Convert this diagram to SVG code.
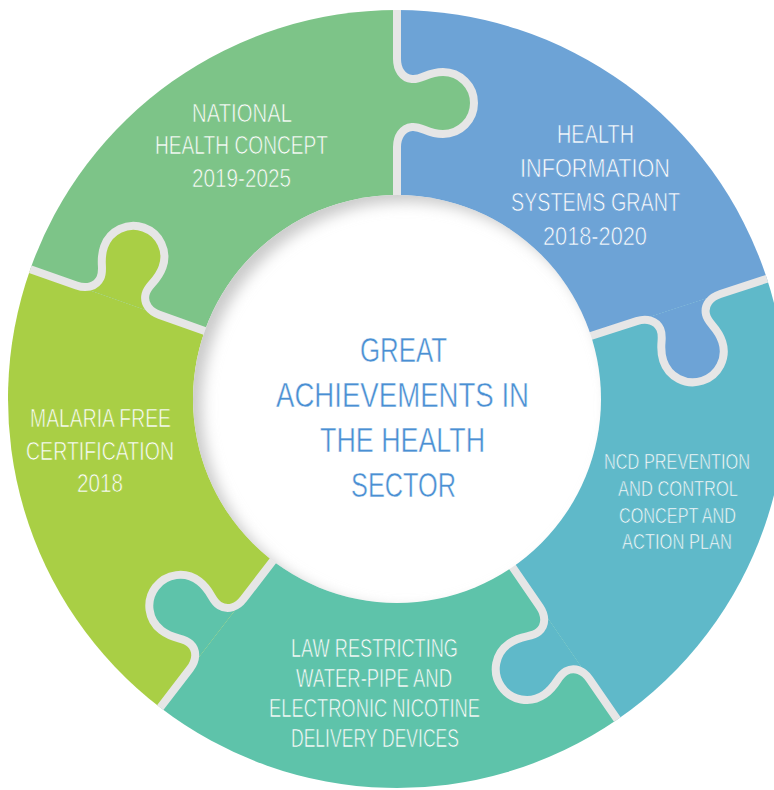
<svg xmlns="http://www.w3.org/2000/svg" width="774" height="790" viewBox="0 0 774 790">
<style>
.lbl{font-family:"Liberation Sans",Arial,sans-serif;font-size:26px;fill:#ffffff;stroke-width:0.7px}
.small{font-size:22.5px}
.ctr{font-family:"Liberation Sans",Arial,sans-serif;font-size:36px;fill:#4a8fd3;stroke:#ffffff;stroke-width:0.5px}
.seam{fill:none;stroke:#e6e6e6;stroke-width:8;stroke-linejoin:round}
</style>
<defs>
<path id="knob" d="M 342 0 L 340 0 C 330 0 321 5 320 15 C 319 25 327 30 327 46 A 31 31 0 0 1 296 77 A 31 31 0 0 1 265 46 C 265 30 273 25 272 15 C 271 5 262 0 252 0 L 250 0 Z"/>
<path id="seamPath" d="M 389 0 L 340 0 C 330 0 321 5 320 15 C 319 25 327 30 327 46 A 31 31 0 0 1 296 77 A 31 31 0 0 1 265 46 C 265 30 273 25 272 15 C 271 5 262 0 252 0 L 198 0"/>
<clipPath id="innerClip"><circle cx="397" cy="399" r="204"/></clipPath>
<filter id="soft" x="-20%" y="-20%" width="140%" height="140%"><feGaussianBlur stdDeviation="7"/></filter>
</defs>

<g id="piece-blue">
<path d="M397,399 L397,10 A389,389 0 0 1 766.96,278.79 Z" fill="#6da3d6"/>
</g>
<g id="piece-teal">
<path d="M397,399 L766.96,278.79 A389,389 0 0 1 617.33,719.59 Z" fill="#5fb9c9"/>
</g>
<g id="piece-seagreen">
<path d="M397,399 L617.33,719.59 A389,389 0 0 1 160.19,707.61 Z" fill="#5ec3aa"/>
</g>
<g id="piece-lime">
<path d="M397,399 L160.19,707.61 A389,389 0 0 1 30.31,269.15 Z" fill="#a9cf45"/>
</g>
<g id="piece-green">
<path d="M397,399 L30.31,269.15 A389,389 0 0 1 397,10 Z" fill="#7dc488"/>
</g>

<g id="knobs">
<use href="#knob" transform="translate(397 399) rotate(-90)" fill="#7dc488"/>
<use href="#knob" transform="translate(397 399) rotate(-18)" fill="#6da3d6"/>
<use href="#knob" transform="translate(397 399) rotate(55.5)" fill="#5fb9c9"/>
<use href="#knob" transform="translate(397 399) rotate(127.5)" fill="#5ec3aa"/>
<use href="#knob" transform="translate(397 399) rotate(199.5)" fill="#a9cf45"/>
</g>

<g id="connectors">
<use href="#seamPath" class="seam" transform="translate(397 399) rotate(-90)"/>
<use href="#seamPath" class="seam" transform="translate(397 399) rotate(-18)"/>
<use href="#seamPath" class="seam" transform="translate(397 399) rotate(55.5)"/>
<use href="#seamPath" class="seam" transform="translate(397 399) rotate(127.5)"/>
<use href="#seamPath" class="seam" transform="translate(397 399) rotate(199.5)"/>
</g>

<g id="center">
<circle cx="397" cy="399" r="204" fill="#ffffff"/>
<g clip-path="url(#innerClip)">
<circle cx="406" cy="406" r="218" fill="none" stroke="#cbcbcb" stroke-width="28" filter="url(#soft)"/>
</g>
<text class="ctr" transform="matrix(0.74 0 0 1 360 362)" x="0" y="0" textLength="117.6" lengthAdjust="spacingAndGlyphs">GREAT</text>
<text class="ctr" transform="matrix(0.74 0 0 1 276 407)" x="0" y="0" textLength="341.9" lengthAdjust="spacingAndGlyphs">ACHIEVEMENTS IN</text>
<text class="ctr" transform="matrix(0.74 0 0 1 320 452)" x="0" y="0" textLength="223" lengthAdjust="spacingAndGlyphs">THE HEALTH</text>
<text class="ctr" transform="matrix(0.74 0 0 1 351 497)" x="0" y="0" textLength="141.9" lengthAdjust="spacingAndGlyphs">SECTOR</text>
</g>

<g id="label-green" stroke="#7dc488">
<text class="lbl" transform="matrix(0.74 0 0 1 192 122)" x="0" y="0" textLength="135.1" lengthAdjust="spacingAndGlyphs">NATIONAL</text>
<text class="lbl" transform="matrix(0.74 0 0 1 155 154)" x="0" y="0" textLength="233.8" lengthAdjust="spacingAndGlyphs">HEALTH CONCEPT</text>
<text class="lbl" transform="matrix(0.74 0 0 1 192 187)" x="0" y="0" textLength="133.8" lengthAdjust="spacingAndGlyphs">2019-2025</text>
</g>
<g id="label-blue" stroke="#6da3d6">
<text class="lbl" transform="matrix(0.74 0 0 1 557 143)" x="0" y="0" textLength="104.1" lengthAdjust="spacingAndGlyphs">HEALTH</text>
<text class="lbl" transform="matrix(0.74 0 0 1 520 177)" x="0" y="0" textLength="202.7" lengthAdjust="spacingAndGlyphs">INFORMATION</text>
<text class="lbl" transform="matrix(0.74 0 0 1 511 211)" x="0" y="0" textLength="228.4" lengthAdjust="spacingAndGlyphs">SYSTEMS GRANT</text>
<text class="lbl" transform="matrix(0.74 0 0 1 543 245)" x="0" y="0" textLength="140.5" lengthAdjust="spacingAndGlyphs">2018-2020</text>
</g>
<g id="label-lime" stroke="#a9cf45">
<text class="lbl" transform="matrix(0.74 0 0 1 30 427)" x="0" y="0" textLength="190.5" lengthAdjust="spacingAndGlyphs">MALARIA FREE</text>
<text class="lbl" transform="matrix(0.74 0 0 1 26 460)" x="0" y="0" textLength="200" lengthAdjust="spacingAndGlyphs">CERTIFICATION</text>
<text class="lbl" transform="matrix(0.74 0 0 1 77 492)" x="0" y="0" textLength="62.2" lengthAdjust="spacingAndGlyphs">2018</text>
</g>
<g id="label-teal" stroke="#5fb9c9">
<text class="lbl small" transform="matrix(0.74 0 0 1 604 469)" x="0" y="0" textLength="197.3" lengthAdjust="spacingAndGlyphs">NCD PREVENTION</text>
<text class="lbl small" transform="matrix(0.74 0 0 1 618 496)" x="0" y="0" textLength="162.2" lengthAdjust="spacingAndGlyphs">AND CONTROL</text>
<text class="lbl small" transform="matrix(0.74 0 0 1 619 523)" x="0" y="0" textLength="158.1" lengthAdjust="spacingAndGlyphs">CONCEPT AND</text>
<text class="lbl small" transform="matrix(0.74 0 0 1 622 549)" x="0" y="0" textLength="148.6" lengthAdjust="spacingAndGlyphs">ACTION PLAN</text>
</g>
<g id="label-seagreen" stroke="#5ec3aa">
<text class="lbl" transform="matrix(0.74 0 0 1 291 657)" x="0" y="0" textLength="225.7" lengthAdjust="spacingAndGlyphs">LAW RESTRICTING</text>
<text class="lbl" transform="matrix(0.74 0 0 1 296 687)" x="0" y="0" textLength="210.8" lengthAdjust="spacingAndGlyphs">WATER-PIPE AND</text>
<text class="lbl" transform="matrix(0.74 0 0 1 269 717)" x="0" y="0" textLength="285.1" lengthAdjust="spacingAndGlyphs">ELECTRONIC NICOTINE</text>
<text class="lbl" transform="matrix(0.74 0 0 1 291 747)" x="0" y="0" textLength="227" lengthAdjust="spacingAndGlyphs">DELIVERY DEVICES</text>
</g>
</svg>
